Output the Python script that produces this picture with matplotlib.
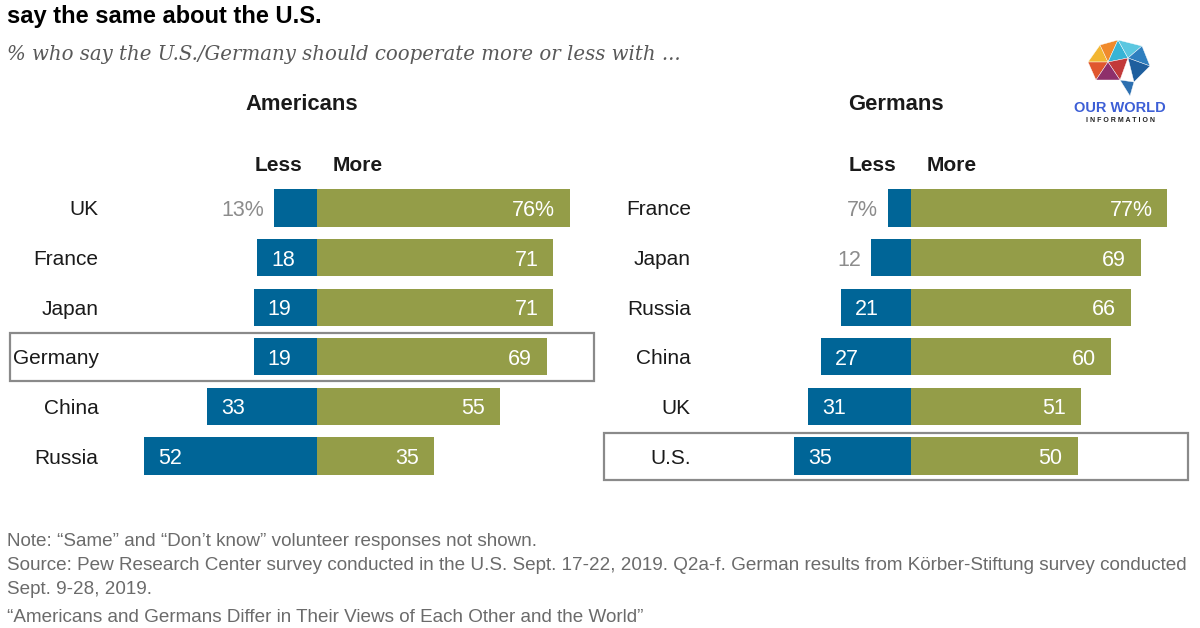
import matplotlib
matplotlib.use("Agg")
import matplotlib.pyplot as plt
from matplotlib.patches import Rectangle, Polygon

SANS = "Liberation Sans"

# ---------------- data ----------------
us_countries = ["UK", "France", "Japan", "Germany", "China", "Russia"]
us_less = [13, 18, 19, 19, 33, 52]
us_more = [76, 71, 71, 69, 55, 35]

de_countries = ["France", "Japan", "Russia", "China", "UK", "U.S."]
de_less = [7, 12, 21, 27, 31, 35]
de_more = [77, 69, 66, 60, 51, 50]

panel_titles = ["Americans", "Germans"]
highlight = ["Germany", "U.S."]

BLUE = "#006597"
OLIVE = "#949D48"
GRAY_LBL = "#8c8c8c"

W, H = 1200, 628
fig = plt.figure(figsize=(12, 6.28), dpi=100)

PXU = 3.33          # pixels per percentage point
ROW = 49.6          # pixels per row
ROW0 = 208          # y pixel of first row centre


def make_axes(left_px, width_px, zero_px):
    ax = fig.add_axes([left_px / W, 0, width_px / W, 1])
    ax.set_xlim(-(zero_px - left_px) / PXU, (left_px + width_px - zero_px) / PXU)
    ax.set_ylim((H - ROW0) / ROW, -ROW0 / ROW)
    ax.axis("off")
    return ax


def draw_panel(ax, countries, less, more, title, hl, lab_x):
    n = len(countries)
    ys = list(range(n))
    ax.barh(ys, [-v for v in less], height=0.75, color=BLUE, left=0)
    ax.barh(ys, more, height=0.75, color=OLIVE, left=0)
    for i, (c, l, m) in enumerate(zip(countries, less, more)):
        suffix = "%" if i == 0 else ""
        if l < 15:
            ax.text(-l - 3, i, f"{l}{suffix}", ha="right", va="center_baseline",
                    color=GRAY_LBL, fontsize=15.5, family=SANS)
        else:
            ax.text(-l + 4.2, i, f"{l}{suffix}", ha="left", va="center_baseline",
                    color="white", fontsize=15.5, family=SANS)
        ax.text(m - 4.5, i, f"{m}{suffix}", ha="right", va="center_baseline",
                color="white", fontsize=15.5, family=SANS)
        ax.text(lab_x, i, c, ha="right", va="center_baseline", color="#1a1a1a",
                fontsize=15, family=SANS)
        if c == hl:
            ax.add_patch(Rectangle((-92.1, i - 0.47), 175.2, 0.96, fill=False,
                                   edgecolor="#8a8a8a", lw=1.6, clip_on=False))
    ax.text(-4.5, -0.85, "Less", ha="right", va="center",
            fontsize=15, fontweight="bold", family=SANS, color="#1a1a1a")
    ax.text(4.8, -0.85, "More", ha="left", va="center",
            fontsize=15, fontweight="bold", family=SANS, color="#1a1a1a")
    ax.text(-4.5, -2.09, title, ha="center", va="center",
            fontsize=15.8, fontweight="bold", family=SANS, color="#1a1a1a")


axL = make_axes(0, 600, 317)
axR = make_axes(600, 600, 911)
draw_panel(axL, us_countries, us_less, us_more, panel_titles[0], highlight[0], -65.6)
draw_panel(axR, de_countries, de_less, de_more, panel_titles[1], highlight[1], -66.1)

# ---------------- titles ----------------
fig.text(7 / W, 1 - 23 / H, "say the same about the U.S.", ha="left",
         va="baseline", fontsize=17, fontweight="bold", family=SANS, color="#000000")
fig.text(7 / W, 1 - 55 / H, "% who say the U.S./Germany should cooperate more or less with ...",
         ha="left", va="center", fontsize=14.2, style="italic",
         family="DejaVu Serif", color="#595959")

# ---------------- footnotes ----------------
notes = [
    "Note: \u201cSame\u201d and \u201cDon\u2019t know\u201d volunteer responses not shown.",
    "Source: Pew Research Center survey conducted in the U.S. Sept. 17-22, 2019. Q2a-f. German results from K\u00f6rber-Stiftung survey conducted",
    "Sept. 9-28, 2019.",
    "\u201cAmericans and Germans Differ in Their Views of Each Other and the World\u201d",
]
for t, y in zip(notes, [542, 566, 590, 617]):
    fig.text(7 / W, 1 - y / H, t, ha="left", va="center", fontsize=13.6,
             family=SANS, color="#6b6b6b")

# ---------------- logo ----------------
fig.text(1120 / W, 1 - 108 / H, "OUR WORLD", ha="center", va="center",
         fontsize=10.5, fontweight="bold", family=SANS, color="#3d5fd6")
fig.text(1120 / W, 1 - 120 / H, "I N F O R M A T I O N", ha="center", va="center",
         fontsize=5, fontweight="bold", family=SANS, color="#222222")
tris = [
    ([(1088, 62), (1100, 45), (1108, 62)], "#f2b632"),
    ([(1088, 62), (1108, 62), (1096, 80)], "#e0562e"),
    ([(1100, 45), (1118, 40), (1108, 62)], "#f08a2c"),
    ([(1108, 62), (1118, 40), (1128, 58)], "#36b4d6"),
    ([(1118, 40), (1142, 46), (1128, 58)], "#5cc7e0"),
    ([(1128, 58), (1142, 46), (1150, 66)], "#2f7fbf"),
    ([(1108, 62), (1128, 58), (1120, 80)], "#c23a3a"),
    ([(1128, 58), (1150, 66), (1134, 82)], "#1f5f9e"),
    ([(1096, 80), (1108, 62), (1120, 80)], "#8e2f6b"),
    ([(1120, 80), (1134, 82), (1130, 96)], "#2c6fb0"),
]
for pts, col in tris:
    fig.patches.append(Polygon([(x / W, 1 - y / H) for x, y in pts], closed=True,
                               transform=fig.transFigure, facecolor=col,
                               edgecolor="white", lw=0.3))

fig.savefig("out.png", dpi=100)
